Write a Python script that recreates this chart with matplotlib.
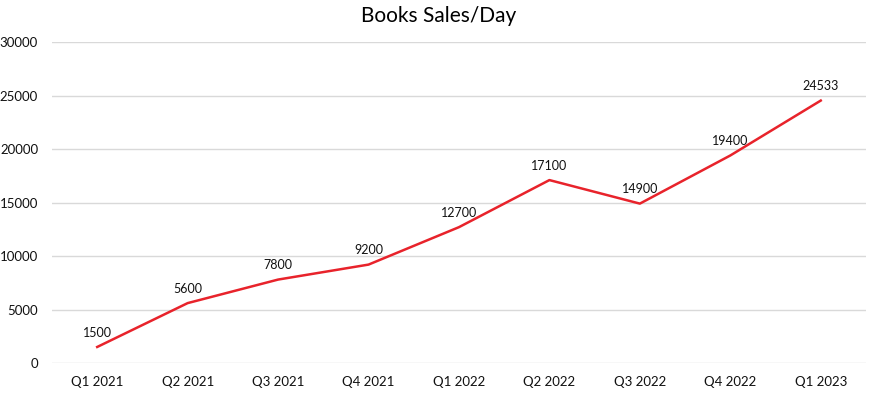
import matplotlib.pyplot as plt

plt.rcParams['font.family'] = ['Lato', 'DejaVu Sans']

quarters = ["Q1 2021", "Q2 2021", "Q3 2021", "Q4 2021", "Q1 2022",
            "Q2 2022", "Q3 2022", "Q4 2022", "Q1 2023"]
sales = [1500, 5600, 7800, 9200, 12700, 17100, 14900, 19400, 24533]
yticks = [0, 5000, 10000, 15000, 20000, 25000, 30000]

fig = plt.figure(figsize=(8.78, 3.97), dpi=100)
ax = fig.add_axes([0.0592, 0.0856, 0.9271, 0.8084])

x = list(range(len(quarters)))
ax.plot(x, sales, color='#E8232B', linewidth=1.8, zorder=3)
for xi, v in zip(x, sales):
    ax.annotate(f"{v}", (xi, v), xytext=(0, 6), textcoords='offset points',
                ha='center', va='bottom', fontsize=9, color='#111111')

ax.set_xlim(-0.5, len(quarters) - 0.5)
ax.set_ylim(0, 30000)
ax.set_yticks(yticks)
ax.set_yticklabels([str(t) for t in yticks])
ax.set_xticks(x)
ax.set_xticklabels(quarters)
ax.grid(axis='y', color='#D9D9D9', linewidth=1)
ax.set_axisbelow(True)
for s in ax.spines.values():
    s.set_visible(False)
ax.tick_params(axis='both', length=0, labelsize=9.5, colors='#111111')
ax.tick_params(axis='y', pad=10)
ax.tick_params(axis='x', pad=9)

fig.suptitle("Books Sales/Day", fontsize=15, y=0.985)

fig.savefig("out.png", dpi=100)
